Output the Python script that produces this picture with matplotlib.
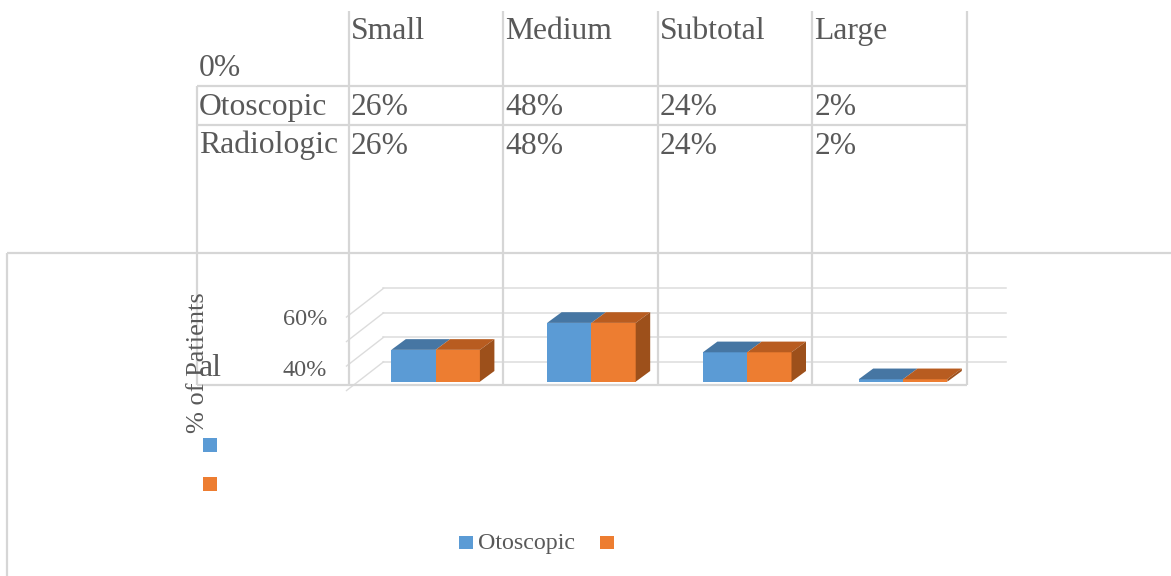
import matplotlib
matplotlib.use("Agg")
import matplotlib.pyplot as plt
from matplotlib.patches import Polygon, Rectangle

# ---------------- data ----------------
categories = ["Small", "Medium", "Subtotal", "Large"]
otoscopic = [26, 48, 24, 2]
radiologic = [26, 48, 24, 2]
series_names = ["Otoscopic", "Radiologic"]
table_corner_label = "0%"
ytick_labels = ["60%", "40%"]
grid_values = [20, 40, 60, 80]
y_axis_title = "% of Patients"
stray_label = "al"

# ---------------- style ----------------
BLUE, BLUE_TOP = "#5B9BD5", "#4676A3"
ORANGE, ORANGE_TOP, ORANGE_SIDE = "#ED7D31", "#B85C20", "#9D501B"
TXT = "#595959"
LINE = "#D6D6D6"
GRID = "#DCDCDC"
SERIF = ["Liberation Serif", "DejaVu Serif"]

W, H = 1171, 576
fig = plt.figure(figsize=(W / 100, H / 100), dpi=100)

# ---------------- 3-D bar area ----------------
ax = fig.add_axes([0, 0, 1, 1], zorder=1)
ax.set_facecolor("none")
ax.axis("off")
X0, SLOT, Y0, K = 435.6, 155.8, 381.7, 1.225   # pixel mapping of the plot area
ax.set_xlim(-X0 / SLOT, (W - X0) / SLOT)
ax.set_ylim((Y0 - H) / K, Y0 / K)

BW = 44.3 / SLOT          # bar width
DX, DY = 14.5 / SLOT, 10.7 / K   # 3-D depth
GRID_OFF = -3.8
WALL_X0, WALL_X1 = (383.5 - X0) / SLOT, (1005.7 - X0) / SLOT
SDX, SDY = 37.0 / SLOT, 28.7 / K

for g in grid_values:
    yy = g + GRID_OFF
    ax.plot([WALL_X0, WALL_X1], [yy, yy], color=GRID, lw=1.1, zorder=1)
    ax.plot([WALL_X0, WALL_X0 - SDX], [yy, yy - SDY], color=GRID, lw=1.0, zorder=1)

for i, (a, b) in enumerate(zip(otoscopic, radiologic)):
    # Otoscopic (blue)
    x0, x1 = i - BW, i
    ax.add_patch(Rectangle((x0, 0), BW, a, fc=BLUE, ec="none", zorder=3))
    ax.add_patch(Polygon([(x0, a), (x1, a), (x1 + DX, a + DY), (x0 + DX, a + DY)],
                         closed=True, fc=BLUE_TOP, ec="none", zorder=3))
    # Radiologic (orange)
    x0, x1 = i, i + BW
    ax.add_patch(Rectangle((x0, 0), BW, b, fc=ORANGE, ec="none", zorder=4))
    ax.add_patch(Polygon([(x0, b), (x1, b), (x1 + DX, b + DY), (x0 + DX, b + DY)],
                         closed=True, fc=ORANGE_TOP, ec="none", zorder=4))
    ax.add_patch(Polygon([(x1, 0), (x1 + DX, DY), (x1 + DX, b + DY), (x1, b)],
                         closed=True, fc=ORANGE_SIDE, ec="none", zorder=4))

# ---------------- overlay (table, texts) in pixel space ----------------
ov = fig.add_axes([0, 0, 1, 1], zorder=2)
ov.set_facecolor("none")
ov.axis("off")
ov.set_xlim(0, W)
ov.set_ylim(H, 0)

# outer chart border
ov.plot([7, W], [253, 253], color=LINE, lw=1.6, solid_capstyle="butt")
ov.plot([7, 7], [253, H], color=LINE, lw=1.6, solid_capstyle="butt")

col_edges = [197, 348.5, 502.5, 657.5, 812, 967]
row_lines = [86, 124.5]
ov.plot([col_edges[0], col_edges[0]], [86, 384.5], color=LINE, lw=1.6, solid_capstyle="butt")
for x in col_edges[1:]:
    ov.plot([x, x], [11, 384.5], color=LINE, lw=1.6, solid_capstyle="butt")
for y in row_lines + [384.5]:
    ov.plot([col_edges[0], col_edges[-1]], [y, y], color=LINE, lw=1.6, solid_capstyle="butt")

TFS = 22.8
ov.text(col_edges[0] + 2, 76, table_corner_label, fontsize=TFS, family=SERIF, color=TXT, va="baseline")
for j, c in enumerate(categories):
    ov.text(col_edges[j + 1] + 2.5, 39, c, fontsize=TFS, family=SERIF, color=TXT, va="baseline")
for name, vals, base in [(series_names[0], otoscopic, 115), (series_names[1], radiologic, 153.5)]:
    ov.text(col_edges[0] + 2, base, name, fontsize=TFS, family=SERIF, color=TXT, va="baseline")
    for j, v in enumerate(vals):
        ov.text(col_edges[j + 1] + 2.5, base, f"{v}%", fontsize=TFS, family=SERIF, color=TXT, va="baseline")

# axis labels (as they appear, misplaced)
for lab, base in zip(ytick_labels, [325, 375.7]):
    ov.text(327, base, lab, fontsize=17.5, family=SERIF, color=TXT, ha="right", va="baseline")
ov.text(198.5, 375.7, stray_label, fontsize=TFS, family=SERIF, color=TXT, va="baseline")
ov.text(198, 362.5, y_axis_title, fontsize=19, family=SERIF, color=TXT, rotation=90,
        ha="center", va="center")

# left legend markers
ov.add_patch(Rectangle((202.7, 438.3), 14, 13.4, fc=BLUE, ec="none"))
ov.add_patch(Rectangle((202.7, 477.3), 14, 13.4, fc=ORANGE, ec="none"))

# bottom legend
ov.add_patch(Rectangle((459.3, 536), 13.4, 13.4, fc=BLUE, ec="none"))
ov.text(478.3, 549.3, series_names[0], fontsize=17.3, family=SERIF, color=TXT, va="baseline")
ov.add_patch(Rectangle((600, 536), 14, 13.4, fc=ORANGE, ec="none"))

fig.savefig("out.png", dpi=100, facecolor="white")
